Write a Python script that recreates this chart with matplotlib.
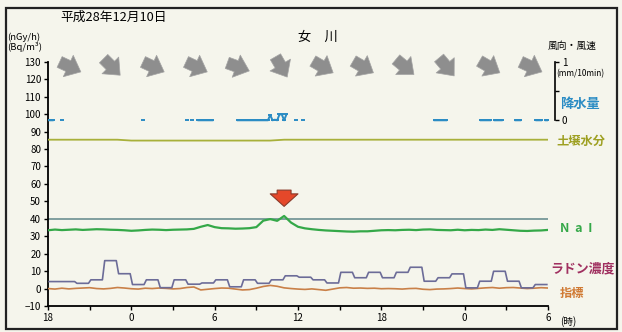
import numpy as np
import matplotlib
matplotlib.use('Agg')
import matplotlib.pyplot as plt
from matplotlib.patches import FancyArrowPatch, Rectangle
import matplotlib.transforms as mtransforms

plt.rcParams['font.family'] = ['Noto Sans CJK JP', 'DejaVu Sans']

# ---------------- data ----------------
# time axis: hours since 18:00 (36 h window)
tick_hours = [0, 6, 12, 18, 24, 30, 36]
tick_labels = ['18', '0', '6', '12', '18', '0', '6']

# NaI dose rate (nGy/h), every 30 min
nai = [33.4, 33.8, 33.5, 33.7, 33.9, 33.6, 33.8, 34.0, 33.9, 33.7,
       33.6, 33.4, 33.1, 33.3, 33.6, 33.8, 33.7, 33.5, 33.7, 33.8,
       33.9, 34.2, 35.4, 36.4, 35.2, 34.6, 34.5, 34.3, 34.4, 34.6,
       35.2, 38.9, 39.8, 38.8, 41.6, 37.8, 35.4, 34.5, 34.0, 33.6,
       33.3, 33.1, 32.9, 32.7, 32.6, 32.8, 32.8, 33.1, 33.4, 33.5,
       33.4, 33.6, 33.7, 33.5, 33.8, 33.9, 33.6, 33.5, 33.4, 33.7,
       33.4, 33.6, 33.5, 33.8, 33.6, 34.0, 33.7, 33.4, 33.1, 33.0,
       33.2, 33.3, 33.6]

# index (指標), every 30 min
index_vals = [0.0, -0.3, 0.2, -0.2, 0.1, 0.3, 0.5, 0.0, -0.2, 0.1,
              0.6, 0.3, -0.1, -0.3, 0.2, 0.0, 0.3, 0.1, -0.2, 0.0,
              0.6, 0.9, -0.8, -0.4, 0.0, 0.3, 0.2, -0.3, -0.8, -0.6,
              0.2, 1.2, 1.8, 1.3, 0.4, 0.0, -0.3, -0.5, -0.2, -0.6,
              -1.0, -0.3, 0.4, 0.6, 0.2, 0.3, 0.1, 0.2, -0.1, 0.0,
              -0.1, -0.3, 0.0, 0.1, -0.4, -0.6, -0.3, -0.2, 0.0, 0.3,
              0.0, -0.2, 0.1, 0.4, 0.6, 0.2, 0.5, 0.6, 0.3, 0.0,
              0.2, 0.5, 0.3]

# soil moisture (土壌水分), hourly
soil = [85.3] * 6 + [84.8] * 11 + [85.3] * 20

# radon concentration (Bq/m3), hourly
radon = [4.0, 4.0, 3.0, 5.0, 16.0, 8.5, 2.3, 5.0, 0.5, 5.0,
         2.5, 3.2, 5.0, 1.0, 5.0, 3.0, 5.0, 7.3, 6.5, 5.0,
         3.2, 9.3, 6.2, 9.3, 6.2, 9.3, 12.2, 4.2, 6.2, 8.4,
         0.4, 4.2, 9.9, 4.2, 0.4, 2.3]

# reference level
ref_level = 40

# precipitation (mm/10min): 10-minute slot index -> value
precip_slots = [0, 1, 2, 6, 41, 60, 62, 65, 66, 67, 68, 69, 70, 71,
                82, 83, 84, 85, 86, 87, 88, 89, 90, 91, 92, 93, 94, 95,
                96, 97, 98, 99, 100, 101, 102, 103,
                107, 110, 167, 168, 169, 170, 171, 172,
                187, 188, 189, 190, 191, 193, 194, 195, 196,
                202, 203, 204, 211, 212, 213, 215, 216]
precip_vals = [0, 0, 0, 0, 0, 0, 0, 0, 0, 0, 0, 0, 0, 0,
               0, 0, 0, 0, 0, 0, 0, 0, 0, 0, 0, 0, 0, 0,
               0.09, 0.0, 0.01, 0.0, 0.1, 0.1, 0.0, 0.1,
               0, 0, 0, 0, 0, 0, 0, 0,
               0, 0, 0, 0, 0, 0, 0, 0, 0,
               0, 0, 0, 0, 0, 0, 0, 0]

# wind (every 3 h): hour, direction wind blows FROM (deg)
wind_hours = [1.6, 4.6, 7.6, 10.7, 13.7, 16.8, 19.8, 22.7, 25.7, 28.7, 31.8, 34.8]
wind_from = [295, 315, 295, 295, 290, 330, 300, 300, 310, 320, 300, 295]

# ---------------- styling ----------------
BG = '#f5f5ec'
C_SOIL = '#a8b03a'
C_NAI = '#34a848'
C_REF = '#7f9e9e'
C_RADON = '#6c6c98'
C_INDEX = '#c98048'
C_PREC = '#2b8cc4'
C_WIND = '#8e8e8e'

W, H = 622, 332
fig = plt.figure(figsize=(W / 100, H / 100), dpi=100, facecolor=BG)
ax = fig.add_axes([48 / W, 1 - 306 / H, 500 / W, (306 - 61.7) / H])
ax.set_facecolor(BG)

t30 = np.arange(len(nai)) * 0.5
t1 = np.arange(len(soil)) * 1.0
radon_10 = np.repeat(radon, 6)
t10 = (np.arange(len(radon_10)) + 0.5) / 6.0

ax.plot(t1, soil, color=C_SOIL, lw=1.3, zorder=3)
ax.axhline(ref_level, color=C_REF, lw=1.4, zorder=2)
ax.plot(t30, nai, color=C_NAI, lw=1.6, zorder=4)
ax.plot(t30, index_vals, color=C_INDEX, lw=1.2, zorder=3)
ax.plot(t10, radon_10, color=C_RADON, lw=1.2, zorder=4)

ax.set_xlim(0, 36)
ax.set_ylim(-10, 130)
ax.set_yticks(np.arange(-10, 131, 10))
ax.set_xticks(tick_hours)
ax.set_xticklabels(tick_labels)
ax.set_xticks(np.arange(3, 36, 6), minor=True)
for s in ['top', 'right']:
    ax.spines[s].set_visible(False)
for s in ['left', 'bottom']:
    ax.spines[s].set_linewidth(1.3)
ax.tick_params(axis='both', which='both', length=3, width=1, labelsize=7, pad=2)

# precipitation axis
ax2 = ax.twinx()
prec = np.full(217, np.nan)
prec[precip_slots] = precip_vals
ax2.plot(np.arange(217) / 6.0, prec, color=C_PREC, lw=1.4,
         marker='_', markersize=3, markeredgewidth=1.4, zorder=5)
ax2.set_ylim(-3.17, 1.0)
for s in ['top', 'left', 'bottom']:
    ax2.spines[s].set_visible(False)
ax2.spines['right'].set_position(('outward', 5))
ax2.spines['right'].set_bounds(0, 1)
ax2.spines['right'].set_linewidth(1.2)
ax2.set_yticks([0, 0.5, 1])
ax2.set_yticklabels(['0', '', '1'])
ax2.tick_params(axis='y', length=3, width=1, labelsize=7, pad=2)

# wind arrows
L = 0.145
for h, d in zip(wind_hours, wind_from):
    ang = np.deg2rad(-90 - d)
    dx, dy = L * np.cos(ang), L * np.sin(ang)
    tr = fig.dpi_scale_trans + mtransforms.ScaledTranslation(h, 127, ax.transData)
    p = FancyArrowPatch((-dx, -dy), (dx, dy), transform=tr,
                        arrowstyle='simple,head_length=10,head_width=17,tail_width=8.5',
                        mutation_scale=1, facecolor=C_WIND, edgecolor='#a4a4a4',
                        lw=0.5, clip_on=False)
    fig.add_artist(p)

# red marker arrow above NaI peak
i_peak = int(np.argmax(nai))
red = FancyArrowPatch((t30[i_peak], 58), (t30[i_peak], 45.5),
                      arrowstyle='simple,head_length=9,head_width=20,tail_width=10',
                      mutation_scale=1, facecolor='#e5482a', edgecolor='#8a3a2a',
                      lw=0.8, zorder=6)
ax.add_patch(red)

# texts
def ft(px, py, s, **kw):
    fig.text(px / W, 1 - py / H, s, **kw)

ft(60, 17, '平成28年12月10日', fontsize=9.2, va='center', ha='left')
ft(318, 37, '女　川', fontsize=9.5, va='center', ha='center')
ft(7, 37, '(nGy/h)', fontsize=6.8, va='center', ha='left')
ft(7, 47, '(Bq/m³)', fontsize=6.8, va='center', ha='left')
ft(548, 46, '風向・風速', fontsize=7, va='center', ha='left')
ft(556, 74, '(mm/10min)', fontsize=6, va='center', ha='left')
ft(560, 104, '降水量', fontsize=9.5, va='center', ha='left', color=C_PREC, fontweight='bold')
ft(556, 141, '土壌水分', fontsize=8.8, va='center', ha='left', color='#9ea022', fontweight='bold')
ft(560, 228, 'N  a  I', fontsize=9, va='center', ha='left', color=C_NAI, fontweight='bold')
ft(550, 268, 'ラドン濃度', fontsize=9.3, va='center', ha='left', color='#a03060', fontweight='bold')
ft(560, 293, '指標', fontsize=8.8, va='center', ha='left', color='#d07a34', fontweight='bold')
ft(560, 322, '(時)', fontsize=7, va='center', ha='left')

# outer frame
fig.add_artist(Rectangle((6 / W, 1 - 329 / H), 611 / W, 321 / H,
                         transform=fig.transFigure, fill=False,
                         edgecolor='#222222', lw=1.6))

fig.savefig('out.png', dpi=100, facecolor=BG)
